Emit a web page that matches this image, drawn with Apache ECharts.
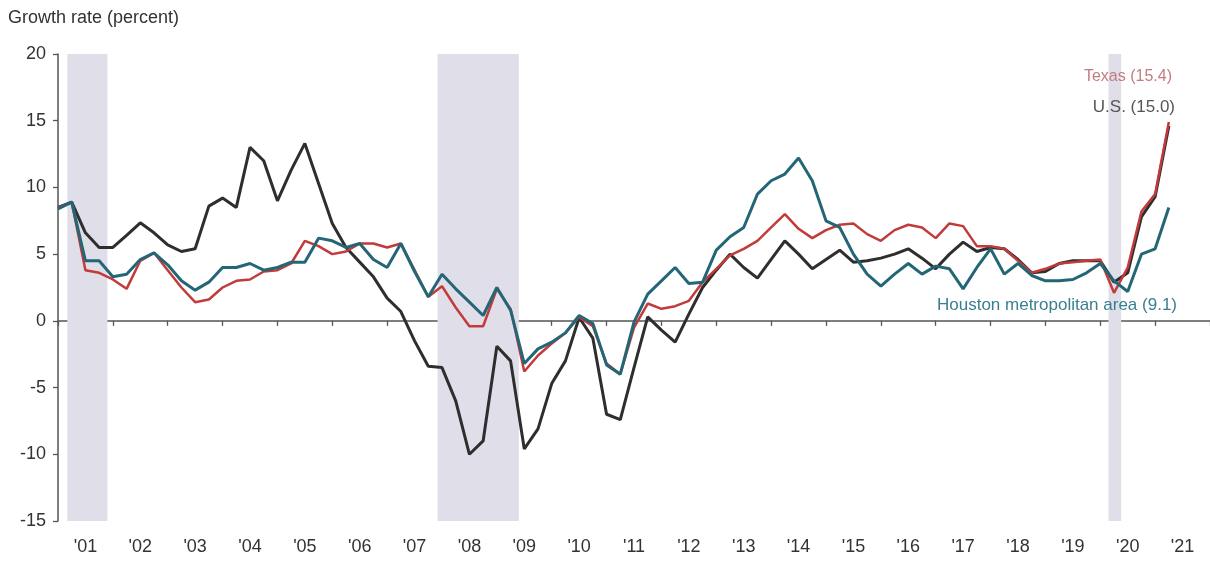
<!DOCTYPE html>
<html>
<head>
<meta charset="utf-8">
<script src="https://cdn.jsdelivr.net/npm/echarts@6/dist/echarts.min.js"></script>
<style>
html,body{margin:0;padding:0;background:#fff;}
#chart{width:1210px;height:565px;}
</style>
</head>
<body>
<div id="chart"></div>
<script>
// Quarterly observations, first point at start of 2001, one per quarter
const startYear = 2001;
const stepYears = 0.25;

const yearLabels = ["'01","'02","'03","'04","'05","'06","'07","'08","'09","'10","'11","'12","'13","'14","'15","'16","'17","'18","'19","'20","'21"];

const usValues = [8.5,8.9,6.6,5.5,5.5,6.4,7.35,6.6,5.7,5.2,5.4,8.6,9.2,8.5,13.0,12.0,9.0,11.3,13.3,10.3,
  7.3,5.5,4.4,3.3,1.7,0.7,-1.5,-3.4,-3.5,-6.0,-10.0,-9.0,-1.9,-3.0,-9.6,-8.1,-4.7,-3.0,0.25,-1.3,
  -7.0,-7.4,-3.5,0.3,-0.7,-1.6,0.5,2.5,3.8,5.0,4.0,3.2,4.6,6.0,5.0,3.9,4.6,5.3,4.4,4.5,
  4.7,5.0,5.4,4.7,3.9,5.0,5.9,5.2,5.5,5.4,4.6,3.6,3.7,4.3,4.5,4.5,4.5,2.9,3.6,7.8,
  9.3,14.6];

const texasValues = [8.5,8.9,3.8,3.6,3.1,2.4,4.5,5.1,3.8,2.5,1.4,1.6,2.5,3.0,3.1,3.7,3.8,4.3,6.0,5.6,
  5.0,5.2,5.8,5.8,5.5,5.8,3.8,1.8,2.6,1.0,-0.4,-0.4,2.4,0.9,-3.8,-2.6,-1.7,-0.9,0.3,-0.4,
  -3.2,-4.0,-0.5,1.3,0.9,1.1,1.5,2.9,3.9,4.9,5.4,6.0,7.0,8.0,6.9,6.2,6.8,7.2,7.3,6.5,
  6.0,6.8,7.2,7.0,6.2,7.3,7.1,5.6,5.6,5.4,4.5,3.6,3.9,4.3,4.4,4.5,4.6,2.1,4.0,8.2,
  9.5,14.9];

const houstonValues = [8.4,8.9,4.5,4.5,3.3,3.5,4.6,5.1,4.2,3.0,2.3,2.9,4.0,4.0,4.3,3.8,4.0,4.4,4.4,6.2,
  6.0,5.5,5.8,4.6,4.0,5.8,3.7,1.8,3.5,2.4,1.4,0.4,2.5,0.8,-3.2,-2.1,-1.6,-0.9,0.4,-0.2,
  -3.3,-4.0,-0.1,2.0,3.0,4.0,2.8,2.9,5.3,6.3,7.0,9.5,10.5,11.0,12.2,10.5,7.5,7.0,5.0,3.5,
  2.6,3.5,4.3,3.5,4.1,3.9,2.4,4.0,5.4,3.5,4.3,3.4,3.0,3.0,3.1,3.6,4.3,3.0,2.2,5.0,
  5.4,8.5];

// Recession periods (fractional years)
const recessionStarts = [2001.17, 2007.92, 2020.15];
const recessionEnds   = [2001.90, 2009.40, 2020.38];

const yTicks = {min: -15, max: 20, interval: 5};

function toPoints(vals){
  return vals.map((v,i)=>[startYear + i*stepYears, v]);
}

const FONT = '"Liberation Sans", Arial, sans-serif';
const chart = echarts.init(document.getElementById('chart'), null, {renderer:'canvas'});

const option = {
  animation: false,
  backgroundColor: '#ffffff',
  grid: {left: 58, right: 0, top: 54, bottom: 44, containLabel: false},
  xAxis: [
    {
      type: 'value', min: 2001, max: 2022, interval: 1,
      axisLine: {show: true, onZero: true, lineStyle: {color: '#555', width: 1.5}},
      axisTick: {show: true, length: 5, inside: false, lineStyle: {color: '#555', width: 1.3}},
      axisLabel: {show: false},
      splitLine: {show: false}
    },
    {
      type: 'category', position: 'bottom', data: yearLabels, boundaryGap: true,
      axisLine: {show: false, onZero: false},
      axisTick: {show: false},
      axisLabel: {show: true, margin: 17, fontSize: 18, color: '#333', fontFamily: FONT, interval: 0},
      splitLine: {show: false}
    }
  ],
  yAxis: {
    type: 'value', min: yTicks.min, max: yTicks.max, interval: yTicks.interval,
    axisLine: {show: true, onZero: false, lineStyle: {color: '#555', width: 1.5}},
    axisTick: {show: true, length: 5, lineStyle: {color: '#555', width: 1.3}},
    axisLabel: {margin: 12, fontSize: 18, color: '#333', fontFamily: FONT},
    splitLine: {show: false}
  },
  series: [
    {
      name: 'U.S.', type: 'line', xAxisIndex: 0, data: toPoints(usValues),
      symbol: 'none', z: 3,
      lineStyle: {color: '#2e2e2e', width: 3},
      markArea: {
        silent: true,
        itemStyle: {color: '#dfdee9'},
        data: recessionStarts.map((s,i)=>[{xAxis: s}, {xAxis: recessionEnds[i]}])
      }
    },
    {
      name: 'Texas', type: 'line', xAxisIndex: 0, data: toPoints(texasValues),
      symbol: 'none', z: 4,
      lineStyle: {color: '#c23a3a', width: 2.5}
    },
    {
      name: 'Houston', type: 'line', xAxisIndex: 0, data: toPoints(houstonValues),
      symbol: 'none', z: 5,
      lineStyle: {color: '#236676', width: 3}
    }
  ],
  graphic: [
    {type: 'text', z: 100, left: 8, top: 9, style: {text: 'Growth rate (percent)', fill: '#333', font: '18px ' + FONT}},
    {type: 'text', z: 100, x: 1172, y: 77, style: {text: 'Texas (15.4)', fill: '#c47b82', font: '16px ' + FONT, align: 'right', verticalAlign: 'middle'}},
    {type: 'text', z: 100, x: 1175, y: 107, style: {text: 'U.S. (15.0)', fill: '#555', font: '17px ' + FONT, align: 'right', verticalAlign: 'middle'}},
    {type: 'text', z: 100, x: 1177, y: 305, style: {text: 'Houston metropolitan area (9.1)', fill: '#3b7f8f', font: '17px ' + FONT, align: 'right', verticalAlign: 'middle'}}
  ]
};
chart.setOption(option);
</script>
</body>
</html>
